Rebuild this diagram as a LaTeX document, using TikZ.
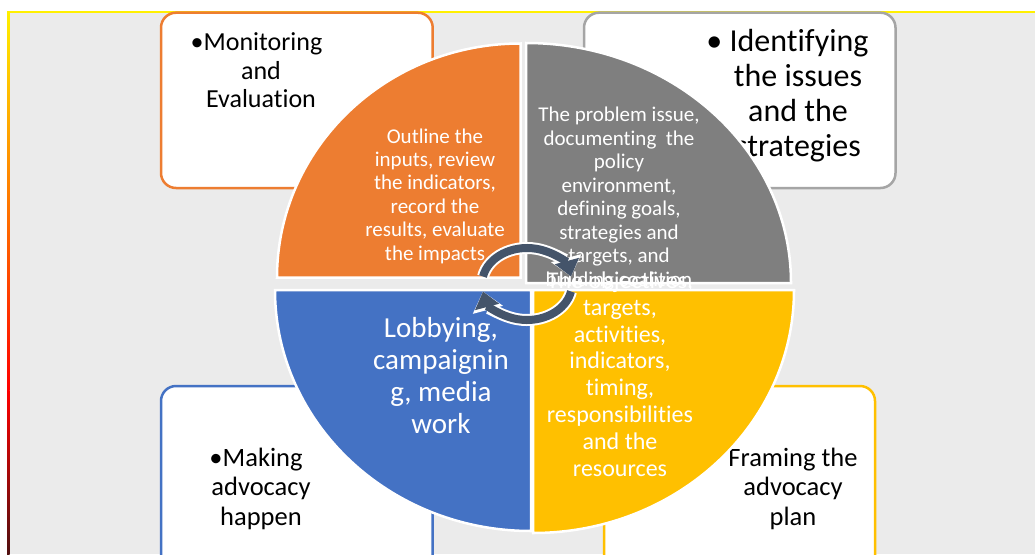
\documentclass[tikz,border=0pt]{standalone}
\usepackage{fontspec}
\setmainfont{Carlito}[Ligatures=NoCommon]
\usetikzlibrary{arrows.meta}
\definecolor{bgc}{HTML}{EBEBEB}
\definecolor{qorange}{HTML}{ED7D31}
\definecolor{qgray}{HTML}{7F7F7F}
\definecolor{bgray}{HTML}{A5A5A5}
\definecolor{qblue}{HTML}{4472C4}
\definecolor{qgold}{HTML}{FFC000}
\definecolor{arr}{HTML}{44546A}
\definecolor{fyellow}{HTML}{FFF000}
\definecolor{forange}{HTML}{FF9900}
\definecolor{fdark}{HTML}{501010}
\begin{document}
\begin{tikzpicture}[x=1pt,y=1pt,
  box/.style={line width=2.5pt, fill=white, rounded corners=15pt},
  quad/.style={draw=white, line width=2.5pt},
  qtext/.style={text=white, align=center, inner sep=0pt},
  btext/.style={text=black, align=center, inner sep=0pt},
  ringw/.style={white, line width=12pt, -{Triangle[width=30pt,length=19pt]}},
  ringd/.style={arr, line width=8pt, -{Triangle[width=24pt,length=16pt]}},
  ]
\useasboundingbox (0,0) rectangle (1035,-554);
\clip (0,0) rectangle (1035,-554);
\fill[white] (0,0) rectangle (1035,-554);
% frame
\fill[bgc] (8,-12) rectangle (1035,-554);
\shade[top color=fyellow, middle color=forange, bottom color=red] (7,-12) rectangle (9.5,-390);
\shade[top color=red, bottom color=fdark] (7,-390) rectangle (9.5,-554);
\draw[fyellow, line width=2pt] (7,-12) -- (1035,-12);
% boxes
\draw[box, draw=qorange] (161,-12.7) rectangle (432.7,-188);
\draw[box, draw=bgray] (584,-12.7) rectangle (895.5,-188);
\draw[box, draw=qblue] (161,-386) rectangle (432.7,-580);
\draw[box, draw=qgold] (604,-386) rectangle (875,-580);
% box texts
\node[btext, font=\fontsize{26}{28.5}\selectfont] (tl) at (261,-70.5) {\hspace*{-9pt}\textbullet Monitoring\\and\\Evaluation};
\node[btext, font=\fontsize{32}{35}\selectfont] (tr) at (798,-95.5) {\hspace*{-21pt}\textbullet\ Identifying\\the issues\\and the\\strategies};
\node[btext, font=\fontsize{26.5}{29.5}\selectfont] (bl) at (261,-488.5) {\hspace*{-10pt}\textbullet Making\\advocacy\\happen};
\node[btext, font=\fontsize{26.5}{29.5}\selectfont] (br) at (793,-488.5) {Framing the\\advocacy\\plan};
% quadrants
\path[quad, fill=qorange] (520.5,-277.5) -- (277,-277.5) arc[start angle=180, end angle=90, x radius=243.5, y radius=234] -- cycle;
\path[quad, fill=qgray] (526,-283) -- (526,-43) arc[start angle=90, end angle=0, x radius=265, y radius=240] -- cycle;
\path[quad, fill=qblue] (531,-290) -- (275,-290) arc[start angle=180, end angle=270, x radius=256, y radius=241] -- cycle;
\path[quad, fill=qgold] (533,-290) -- (794,-290) arc[start angle=0, end angle=-90, x radius=261, y radius=243] -- cycle;
% quadrant texts
\node[qtext, font=\fontsize{21}{23.4}\selectfont] (qo) at (435,-196) {Outline the\\inputs, review\\the indicators,\\record the\\results, evaluate\\the impacts};
\node[qtext, font=\fontsize{21}{23.5}\selectfont] (qg) at (619,-198.3) {The problem issue,\\documenting\ \ the\\policy\\environment,\\defining goals,\\strategies and\\targets, and\\building coalition};
\node[qtext, font=\fontsize{24}{26.8}\selectfont] (qy) at (620,-374) {The objectives,\\targets,\\activities,\\indicators,\\timing,\\responsibilities\\and the\\resources};
\node[qtext, font=\fontsize{29}{32}\selectfont] (qb) at (441,-376) {Lobbying,\\campaignin\\g, media\\work};
% circular arrows
\coordinate (ua) at ({527+45*cos(168)},{-284+36*sin(168)});
\coordinate (la) at ({527+45*cos(-12)},{-284+36*sin(-12)});
\draw[ringw] (ua) arc[start angle=168, end angle=12, x radius=45, y radius=36];
\draw[ringw] (la) arc[start angle=-12, end angle=-168, x radius=45, y radius=36];
\draw[ringd] (ua) arc[start angle=168, end angle=12, x radius=45, y radius=36];
\draw[ringd] (la) arc[start angle=-12, end angle=-168, x radius=45, y radius=36];
\end{tikzpicture}
\end{document}
